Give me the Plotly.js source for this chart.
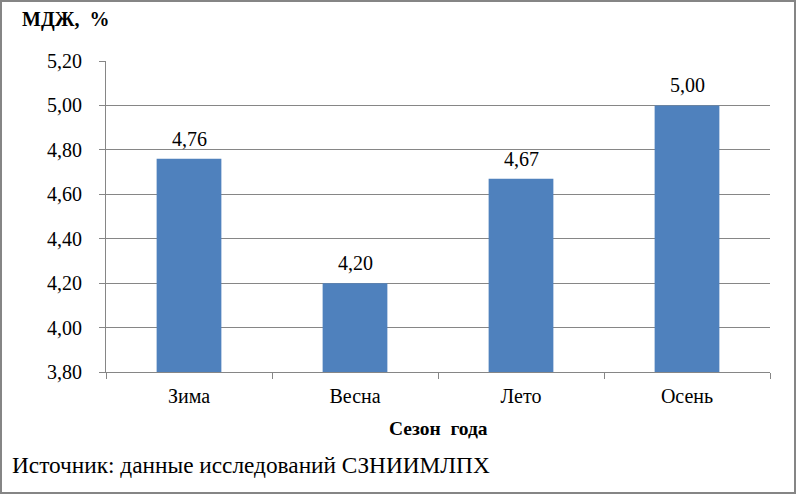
<!DOCTYPE html>
<html>
<head>
<meta charset="utf-8">
<script src="https://cdn.plot.ly/plotly-3.0.1.min.js"></script>
<style>
  html, body { margin: 0; padding: 0; background: #fff; }
  #wrap { position: relative; width: 796px; height: 494px; }
  #chart { position: absolute; left: 0; top: 0; width: 796px; height: 494px; }
  #frame { position: absolute; left: 0; top: 0; width: 796px; height: 494px; box-sizing: border-box; border: 2px solid #858585; pointer-events: none; }
</style>
</head>
<body>
<div id="wrap">
  <div id="chart"></div>
  <div id="frame"></div>
</div>
<script>
const categories = ["Зима", "Весна", "Лето", "Осень"];
const values = [4.76, 4.20, 4.67, 5.00];
const yTicks = [3.80, 4.00, 4.20, 4.40, 4.60, 4.80, 5.00, 5.20];
const yTitle = "МДЖ,  %";
const xTitle = "Сезон  года";
const sourceText = "Источник: данные исследований СЗНИИМЛПХ";

const L = 106, R = 26, T = 61, B = 122;
const W = 796, H = 494;
const pw = W - L - R, ph = H - T - B;
const px = x => (x - L) / pw;
const py = y => (H - B - y) / ph;

const serif = "Liberation Serif";

const trace = {
  type: "bar",
  x: categories,
  y: values,
  marker: { color: "#4F81BD" },
  hoverinfo: "skip"
};

const valueLabels = categories.map((c, i) => ({
  x: c, y: values[i], xref: "x", yref: "y",
  text: values[i].toFixed(2).replace(".", ","),
  showarrow: false, xanchor: "center", yanchor: "bottom", yshift: 7,
  font: { family: serif, size: 20, color: "#000" }
}));

const layout = {
  width: W, height: H,
  margin: { l: L, r: R, t: T, b: B, pad: 0 },
  paper_bgcolor: "#fff",
  plot_bgcolor: "#fff",
  separators: ", ",
  bargap: 0.61,
  showlegend: false,
  font: { family: serif, size: 20, color: "#000" },
  xaxis: {
    type: "category",
    showgrid: false,
    showline: true,
    linecolor: "#868686",
    linewidth: 1,
    ticks: "outside",
    tickson: "boundaries",
    ticklen: 6,
    tickcolor: "#868686",
    ticklabelstandoff: 6,
    tickfont: { family: serif, size: 20, color: "#000" }
  },
  yaxis: {
    range: [3.80, 5.20],
    tickvals: yTicks,
    tickformat: ".2f",
    showgrid: true,
    gridcolor: "#868686",
    gridwidth: 1,
    showline: true,
    linecolor: "#868686",
    linewidth: 1,
    ticks: "outside",
    ticklen: 6,
    tickcolor: "#868686",
    ticklabelstandoff: 13,
    tickfont: { family: serif, size: 20, color: "#000" },
    zeroline: false
  },
  annotations: valueLabels.concat([
    { text: "<b>" + yTitle + "</b>", xref: "paper", yref: "paper", x: px(20), y: py(19),
      xanchor: "left", yanchor: "middle", showarrow: false,
      font: { family: serif, size: 20, color: "#000" } },
    { text: "<b>" + xTitle + "</b>", xref: "paper", yref: "paper", x: px(438), y: py(428),
      xanchor: "center", yanchor: "middle", showarrow: false,
      font: { family: serif, size: 19.5, color: "#000" } },
    { text: sourceText, xref: "paper", yref: "paper", x: px(10), y: py(465),
      xanchor: "left", yanchor: "middle", showarrow: false,
      font: { family: serif, size: 23.3, color: "#000" } }
  ])
};

Plotly.newPlot("chart", [trace], layout, { displayModeBar: false, staticPlot: true });
</script>
</body>
</html>
